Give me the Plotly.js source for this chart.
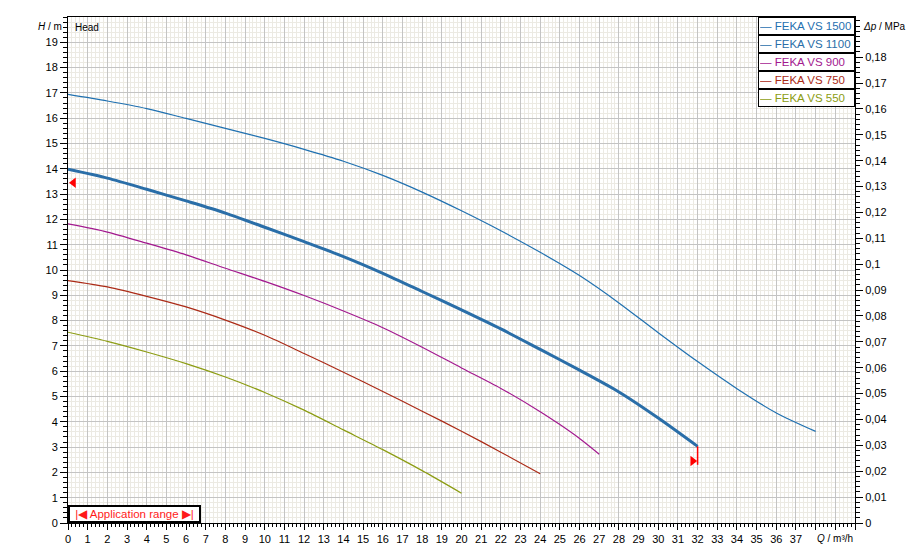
<!DOCTYPE html>
<html>
<head>
<meta charset="utf-8">
<script src="https://cdn.plot.ly/plotly-3.0.1.min.js"></script>
<style>
html,body{margin:0;padding:0;background:#fff;}
#chart{width:921px;height:559px;}
</style>
</head>
<body>
<div id="chart"></div>
<script>
// ---- Data ----
var seriesNames = ['FEKA VS 1500', 'FEKA VS 1100', 'FEKA VS 900', 'FEKA VS 750', 'FEKA VS 550'];

var q1500 = [0, 2, 4, 6, 8, 10, 12, 14, 16, 18, 20, 22, 24, 26, 28, 30, 32, 34, 36, 38];
var h1500 = [16.94, 16.68, 16.38, 15.99, 15.6, 15.2, 14.77, 14.3, 13.74, 13.08, 12.34, 11.55, 10.7, 9.78, 8.7, 7.52, 6.38, 5.31, 4.35, 3.62];

var q1100 = [0, 2, 4, 6, 8, 10, 12, 14, 16, 18, 20, 22, 24, 26, 28, 30, 32];
var h1100 = [13.98, 13.63, 13.19, 12.73, 12.25, 11.69, 11.12, 10.53, 9.87, 9.15, 8.42, 7.67, 6.86, 6.04, 5.18, 4.15, 3.03];

var q900 = [0, 2, 4, 6, 8, 10, 12, 14, 16, 18, 20, 22, 24, 25, 26, 27];
var h900 = [11.82, 11.5, 11.06, 10.6, 10.07, 9.55, 8.99, 8.38, 7.72, 6.95, 6.13, 5.32, 4.4, 3.89, 3.34, 2.72];

var q750 = [0, 2, 4, 6, 8, 10, 12, 14, 16, 18, 20, 22, 24];
var h750 = [9.58, 9.33, 8.96, 8.54, 8.02, 7.42, 6.7, 5.96, 5.2, 4.42, 3.63, 2.8, 1.95];

var q550 = [0, 2, 4, 6, 8, 10, 12, 14, 16, 18, 20];
var h550 = [7.54, 7.18, 6.76, 6.3, 5.77, 5.16, 4.46, 3.68, 2.9, 2.07, 1.18];

// application range markers and limit line
var rangeMarkQ = [0.28, 31.75];
var rangeMarkH = [13.45, 2.45];
var limitQ = [32, 32];
var limitH = [3.03, 2.3];

// tick labels
var qTickVals = [0,1,2,3,4,5,6,7,8,9,10,11,12,13,14,15,16,17,18,19,20,21,22,23,24,25,26,27,28,29,30,31,32,33,34,35,36,37,38,39,40];
var qTickText = ['0','1','2','3','4','5','6','7','8','9','10','11','12','13','14','15','16','17','18','19','20','21','22','23','24','25','26','27','28','29','30','31','32','33','34','35','36','37','','',''];
var hTickVals = [0,1,2,3,4,5,6,7,8,9,10,11,12,13,14,15,16,17,18,19];
var hTickText = ['0','1','2','3','4','5','6','7','8','9','10','11','12','13','14','15','16','17','18','19'];
var dpTickVals = [0,0.01,0.02,0.03,0.04,0.05,0.06,0.07,0.08,0.09,0.1,0.11,0.12,0.13,0.14,0.15,0.16,0.17,0.18];
var dpTickText = ['0','0,01','0,02','0,03','0,04','0,05','0,06','0,07','0,08','0,09','0,1','0,11','0,12','0,13','0,14','0,15','0,16','0,17','0,18'];

// ---- Styles ----
var seriesColors = ['#1f70b0', '#2a6ea8', '#a3198f', '#ab2a16', '#8c9c12'];
var seriesWidths = [1.2, 3, 1.2, 1.2, 1.2];
var seriesQ = [q1500, q1100, q900, q750, q550];
var seriesH = [h1500, h1100, h900, h750, h550];

var traces = [];
for (var i = 0; i < seriesNames.length; i++) {
  traces.push({
    x: seriesQ[i], y: seriesH[i], name: seriesNames[i],
    type: 'scatter', mode: 'lines',
    line: {color: seriesColors[i], width: seriesWidths[i], shape: 'spline', smoothing: 0.8},
    showlegend: false, hoverinfo: 'skip'
  });
}
traces.push({
  x: limitQ, y: limitH, type: 'scatter', mode: 'lines',
  line: {color: '#ff0000', width: 1.5}, showlegend: false, hoverinfo: 'skip'
});
traces.push({
  x: rangeMarkQ, y: rangeMarkH, type: 'scatter', mode: 'markers',
  marker: {symbol: ['triangle-left', 'triangle-right'], size: 9, color: '#ff0000'},
  showlegend: false, hoverinfo: 'skip'
});
// empty trace so the right (pressure) axis is drawn
traces.push({x: [], y: [], yaxis: 'y2', type: 'scatter', mode: 'lines', showlegend: false, hoverinfo: 'skip'});

var FONT = 'Liberation Sans, Arial, sans-serif';
var annotations = [
  {xref: 'paper', yref: 'paper', x: 0, y: 1, xanchor: 'left', yanchor: 'top', xshift: 5, yshift: -3,
   text: 'Head', showarrow: false, font: {size: 10, color: '#000'}},
  {xref: 'paper', yref: 'paper', x: 0, y: 1, xanchor: 'right', yanchor: 'middle', xshift: -4, yshift: -9,
   text: '<i>H</i> / m', showarrow: false, font: {size: 10, color: '#000'}},
  {xref: 'paper', yref: 'paper', x: 1, y: 1, xanchor: 'left', yanchor: 'middle', xshift: 6, yshift: -9,
   text: '<i>Δp</i> / MPa', showarrow: false, font: {size: 10, color: '#000'}},
  {xref: 'paper', yref: 'paper', x: 1, y: 0, xanchor: 'right', yanchor: 'middle', xshift: 0, yshift: -15,
   text: '<i>Q</i> / m³/h', showarrow: false, font: {size: 10, color: '#000'}},
  {xref: 'paper', yref: 'paper', x: 0, y: 0, xanchor: 'left', yanchor: 'bottom', xshift: 0, yshift: 0,
   text: '|◀ Application range ▶|', showarrow: false, font: {size: 11.5, color: '#ff1a1a'},
   bgcolor: '#ffffff', bordercolor: '#000000', borderwidth: 2, borderpad: 0, width: 129, height: 14, align: 'center'}
];
for (var j = 0; j < seriesNames.length; j++) {
  annotations.push({
    xref: 'paper', yref: 'paper', x: 1, y: 1, xanchor: 'right', yanchor: 'top', yshift: -j * 18,
    text: '— ' + seriesNames[j], showarrow: false, align: 'left',
    font: {size: 11.5, color: seriesColors[j]},
    bgcolor: '#ffffff', bordercolor: '#000000', borderwidth: 1, borderpad: 1, width: 93, height: 14
  });
}

var layout = {
  width: 921, height: 559,
  margin: {l: 68, r: 66, t: 17, b: 36, pad: 0},
  paper_bgcolor: '#ffffff', plot_bgcolor: '#ffffff',
  font: {family: FONT, size: 11, color: '#000'},
  showlegend: false,
  xaxis: {
    range: [0, 40], tickmode: 'array', tickvals: qTickVals, ticktext: qTickText,
    ticks: 'outside', ticklen: 6, tickcolor: '#000', tickwidth: 1,
    showgrid: true, gridcolor: '#c4c4c4', gridwidth: 1,
    showline: true, linecolor: '#000', linewidth: 1, mirror: true, zeroline: false,
    tickfont: {size: 11, color: '#000'},
    minor: {tickmode: 'linear', tick0: 0, dtick: 0.2, showgrid: true, gridcolor: '#eceae3', gridwidth: 1,
            ticks: 'outside', ticklen: 3, tickcolor: '#000'},
    fixedrange: true
  },
  yaxis: {
    range: [0, 20], tickmode: 'array', tickvals: hTickVals, ticktext: hTickText,
    ticks: 'outside', ticklen: 7, tickcolor: '#000', tickwidth: 1,
    showgrid: true, gridcolor: '#c4c4c4', gridwidth: 1,
    showline: true, linecolor: '#000', linewidth: 1, mirror: true, zeroline: false,
    tickfont: {size: 11, color: '#000'},
    minor: {tickmode: 'linear', tick0: 0, dtick: 0.2, showgrid: true, gridcolor: '#eceae3', gridwidth: 1,
            ticks: 'outside', ticklen: 4, tickcolor: '#000'},
    fixedrange: true
  },
  yaxis2: {
    overlaying: 'y', side: 'right', anchor: 'x',
    range: [0, 0.1955], tickmode: 'array', tickvals: dpTickVals, ticktext: dpTickText,
    ticks: 'outside', ticklen: 7, tickcolor: '#000', tickwidth: 1,
    showgrid: false, showline: true, linecolor: '#000', linewidth: 1, zeroline: false,
    tickfont: {size: 11, color: '#000'},
    minor: {tickmode: 'linear', tick0: 0, dtick: 0.002, showgrid: false,
            ticks: 'outside', ticklen: 4, tickcolor: '#000'},
    fixedrange: true
  },
  annotations: annotations
};

Plotly.newPlot('chart', traces, layout, {staticPlot: true, displayModeBar: false});
</script>
</body>
</html>
